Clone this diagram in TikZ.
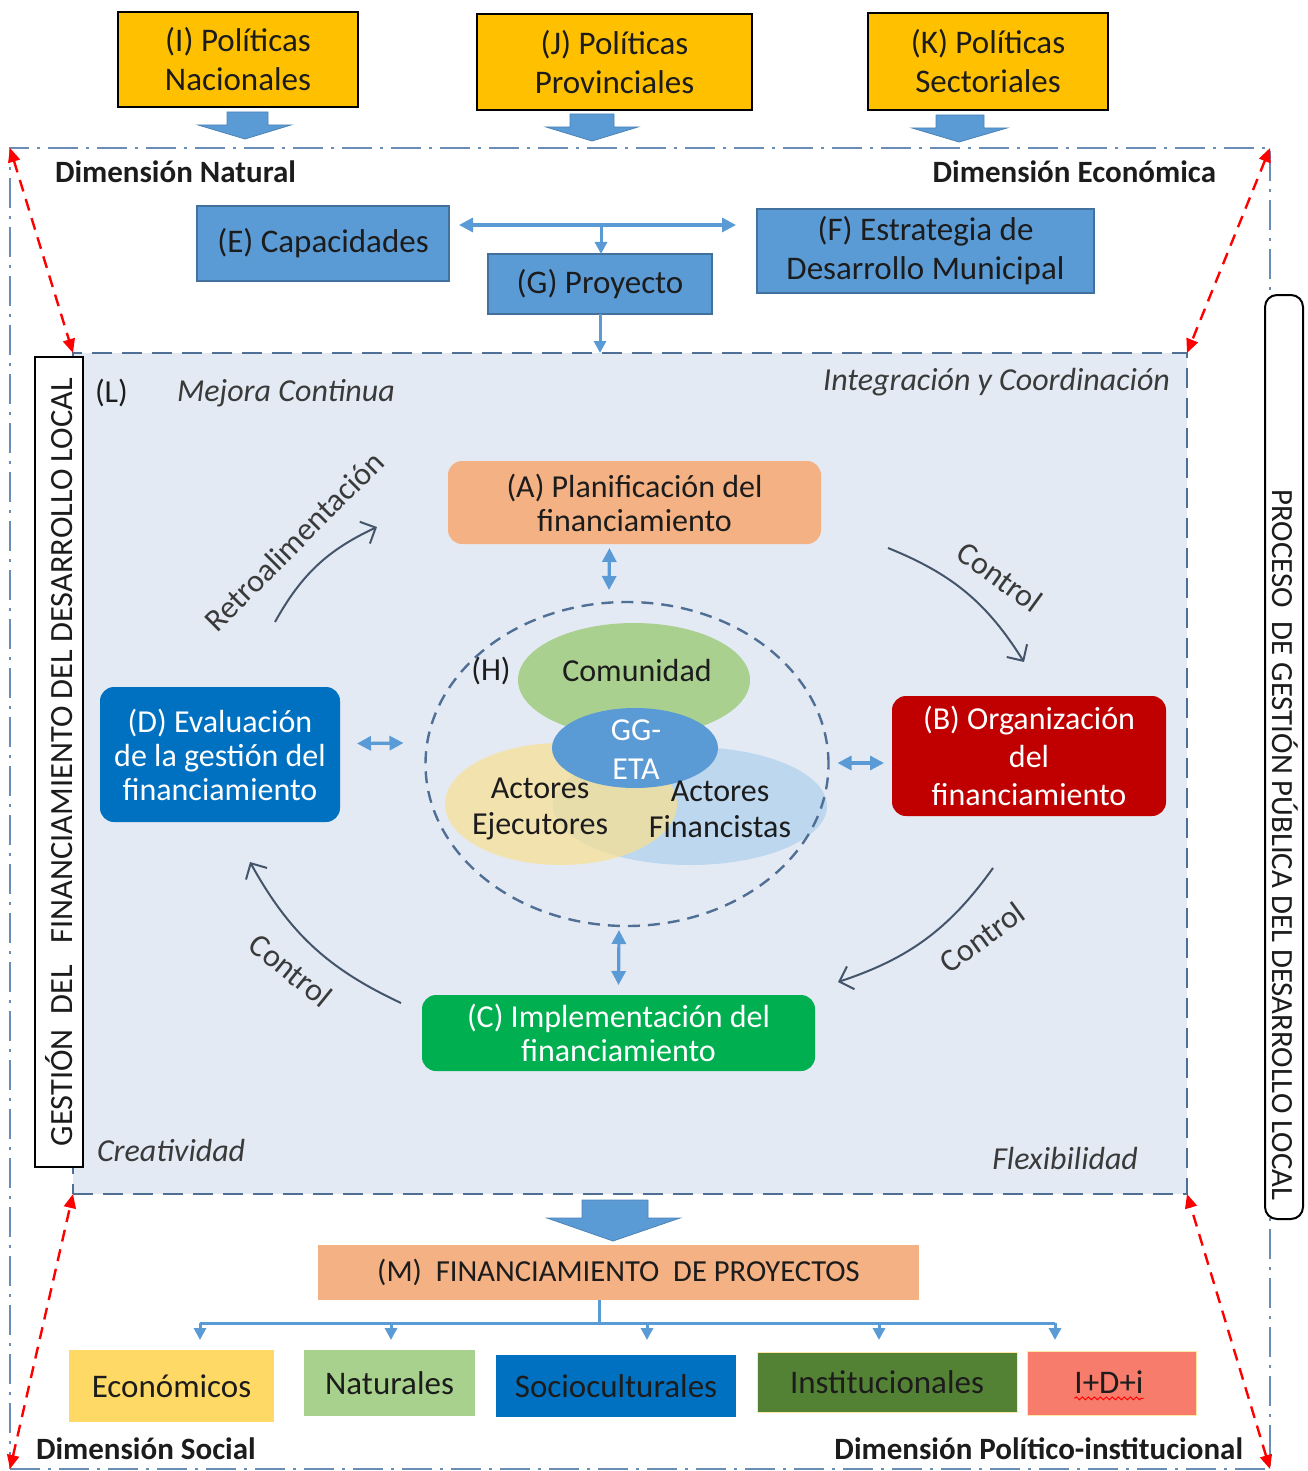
\documentclass[tikz,border=0pt]{standalone}
\usepackage{fontspec}
\setmainfont{Carlito}
\usetikzlibrary{arrows.meta,calc,shapes.geometric,decorations.pathmorphing}
\definecolor{polY}{HTML}{FFC000}
\definecolor{boxB}{HTML}{5B9BD5}
\definecolor{boxBd}{HTML}{41719C}
\definecolor{frameC}{HTML}{6A8DB6}
\definecolor{innerF}{HTML}{E4EAF4}
\definecolor{innerD}{HTML}{4F6F95}
\definecolor{aCol}{HTML}{F4B183}
\definecolor{bCol}{HTML}{C00000}
\definecolor{cCol}{HTML}{00B050}
\definecolor{dCol}{HTML}{0070C0}
\definecolor{cycC}{HTML}{44546A}
\definecolor{comC}{HTML}{A9D08E}
\definecolor{ejeC}{HTML}{F9E08F}
\definecolor{finC}{HTML}{BDD7EE}
\definecolor{ecoC}{HTML}{FFD966}
\definecolor{natC}{HTML}{A9D18E}
\definecolor{socC}{HTML}{0070C0}
\definecolor{insC}{HTML}{548235}
\definecolor{idiC}{HTML}{F77C6C}
\definecolor{txtC}{HTML}{1C1C1C}
\definecolor{lblC}{HTML}{3A3A3A}
\begin{document}
\begin{tikzpicture}[x=0.5pt,y=-0.5pt,
  base/.style={inner sep=0pt, outer sep=0pt, align=center, text=txtC},
  polbox/.style={base, draw=black, line width=1.1pt, fill=polY, font=\fontsize{16.5}{19.5}\selectfont},
  bluebox/.style={base, draw=boxBd, line width=0.8pt, fill=boxB, font=\fontsize{16.5}{19.5}\selectfont},
  phase/.style={base, rounded corners=7pt, font=\fontsize{16}{17}\selectfont},
  leaf/.style={base, font=\fontsize{16.5}{19}\selectfont},
  dimlbl/.style={base, font=\bfseries\fontsize{15.5}{17}\selectfont},
  itlbl/.style={base, font=\itshape\fontsize{16}{17}\selectfont, text=lblC},
  cyclbl/.style={base, font=\fontsize{16}{17}\selectfont, text=lblC},
  venn/.style={ellipse, inner sep=0pt, outer sep=0pt, draw=none},
  venntxt/.style={base, font=\fontsize{16}{18}\selectfont},
  dbl/.style={draw=boxB, line width=1.6pt, <->, >={Triangle[length=7pt,width=7pt]}},
  treearr/.style={draw=boxB, line width=1.5pt, ->, >={Triangle[length=6pt,width=6pt]}},
  cyc/.style={draw=cycC, line width=1pt, ->, >={Straight Barb[length=6pt,width=12pt]}},
  redarr/.style={draw=red, line width=1.2pt, dash pattern=on 6pt off 4pt, <->, >={Triangle[length=7pt,width=6pt]}},
  blockarr/.style={fill=boxB, draw=boxB!85!black, line width=0.4pt}
]
\useasboundingbox (0,0) rectangle (1307,1471);

% outer frame and inner region
\node[base, draw=frameC, line width=1.2pt, dash pattern=on 15pt off 4pt on 1.5pt off 4pt,
      minimum width=630pt, minimum height=660.5pt] (frame) at (640,808.5) {};
\node[base, draw=innerD, fill=innerF, line width=1.2pt, dash pattern=on 10pt off 5pt,
      minimum width=557pt, minimum height=420.5pt] (L) at (630,773.5) {};

% red dashed corner arrows
\draw[redarr] (frame.north west) -- (L.north west);
\draw[redarr] (frame.north east) -- (L.north east);
\draw[redarr] (frame.south west) -- (L.south west);
\draw[redarr] (frame.south east) -- (L.south east);

% side labels
\node[base, rotate=90, draw=black, fill=white, line width=1pt, minimum width=405pt, minimum height=24pt,
      font=\fontsize{16.2}{16}\selectfont] (gbox) at (59,762)
      {GESTIÓN\ \ DEL\ \ \ FINANCIAMIENTO DEL DESARROLLO LOCAL};
\node[base, draw=black, fill=white, line width=1pt, rounded corners=6pt,
      minimum width=19pt, minimum height=462pt] (pbox) at (1284,757) {};
\node[base, rotate=-90, font=\fontsize{15.4}{15}\selectfont] (ptxt) at (1285,845)
      {PROCESO\ \ DE GESTIÓN PÚBLICA DEL DESARROLLO LOCAL};

% top policy boxes
\node[polbox, minimum width=120pt, minimum height=47.5pt] (I) at (238,59.5) {(I) Políticas\\Nacionales};
\node[polbox, minimum width=137.5pt, minimum height=48pt] (J) at (614.5,62) {(J) Políticas\\Provinciales};
\node[polbox, minimum width=120pt, minimum height=48.5pt] (K) at (988,61.5) {(K) Políticas\\Sectoriales};

% block arrows
\fill[blockarr] (227,112) -- (268,112) -- (268,125) -- (291,125) -- (245,139) -- (198,125) -- (227,125) -- cycle;
\fill[blockarr] (570,114) -- (614,114) -- (614,127) -- (638,127) -- (592,141) -- (546,127) -- (570,127) -- cycle;
\fill[blockarr] (936,115) -- (984,115) -- (984,128) -- (1007,128) -- (959,142) -- (912,128) -- (936,128) -- cycle;
\fill[blockarr] (582,1200) -- (648,1200) -- (648,1218) -- (680,1218) -- (613,1241) -- (547,1218) -- (582,1218) -- cycle;

% dimension labels
\node[dimlbl, anchor=west] (dnat) at (55,172) {Dimensión Natural};
\node[dimlbl, anchor=east] (deco) at (1216,172) {Dimensión Económica};
\node[dimlbl, anchor=west] (dsoc) at (36,1449) {Dimensión Social};
\node[dimlbl, anchor=east] (dpol) at (1243,1449) {Dimensión Político-institucional};

% E F G
\node[bluebox, minimum width=126pt, minimum height=37.5pt] (E) at (323,243.5) {(E) Capacidades};
\node[bluebox, minimum width=168.5pt, minimum height=42pt] (F) at (925.5,251) {(F) Estrategia de\\Desarrollo Municipal};
\node[bluebox, minimum width=112pt, minimum height=30pt] (G) at (600,284) {(G) Proyecto};
\draw[dbl] ($(E.east)+(10,-18.5)$) -- ($(F.west)+(-21,-26)$);
\coordinate (EFmid) at (601,225);
\draw[treearr] (EFmid) -- (G.north -| EFmid);
\draw[treearr] (G.south) -- (G.south |- L.north);

% inner labels
\node[base, anchor=west, font=\fontsize{16}{17}\selectfont] (Llbl) at (95,393) {(L)};
\node[itlbl, anchor=west] (mej) at (177,393) {Mejora Continua};
\node[itlbl, anchor=east] (integ) at (1170,382) {Integración y Coordinación};
\node[itlbl, anchor=west] (crea) at (97,1150) {Creatividad};
\node[itlbl, anchor=east] (flex) at (1138,1158) {Flexibilidad};

% phase boxes
\node[phase, fill=aCol, minimum width=186.5pt, minimum height=41.5pt] (A) at (634.5,502.5) {(A) Planificación del\\financiamiento};
\node[phase, fill=bCol, text=white, font=\fontsize{16}{19}\selectfont, minimum width=137pt, minimum height=60pt] (B) at (1029,756) {(B) Organización\\del\\financiamiento};
\node[phase, fill=cCol, text=white, minimum width=196.5pt, minimum height=38pt] (C) at (618.5,1033) {(C) Implementación del\\financiamiento};
\node[phase, fill=dCol, text=white, minimum width=120pt, minimum height=67.5pt] (D) at (220,754.5) {(D) Evaluación\\de la gestión del\\financiamiento};

% Venn (H)
\node[venn, fill=comC, minimum width=116pt, minimum height=57pt] (com) at (634,680) {};
\node[venn, fill=finC, minimum width=137pt, minimum height=59pt] (fin) at (690,806) {};
\node[venn, fill=ejeC, fill opacity=0.7, minimum width=116pt, minimum height=61pt] (eje) at (561,804) {};
\node[venn, fill=boxB, minimum width=83pt, minimum height=40pt] (gg) at (635,748) {};
\node[venn, draw=innerD, line width=1.2pt, dash pattern=on 6pt off 4pt, minimum width=201.5pt, minimum height=162pt] (H) at (627,764) {};
\node[venntxt] (Hlbl) at (491,671) {(H)};
\node[venntxt] (comt) at (637,671) {Comunidad};
\node[venntxt] (ejet) at (540,809) {Actores\\Ejecutores};
\node[venntxt] (fint) at (720,809) {Actores\\Financistas};
\node[venntxt, text=white, font=\fontsize{16}{19.5}\selectfont] (ggt) at (636,750) {GG-\\ETA};

% links with H
\draw[dbl] ($(A.south)+(-25,4)$) -- ($(H.north)+(-18,-12)$);
\draw[dbl] ($(D.east)+(17,-11)$) -- ($(H.west)+(-22,-21)$);
\draw[dbl] ($(H.east)+(9,-1)$) -- ($(B.west)+(-8,7)$);
\draw[dbl] ($(H.south)+(-8,4)$) -- ($(C.north)+(0,-10)$);

% cycle arrows
\coordinate (r1) at (275,622); \coordinate (r2) at (377,527);
\coordinate (k1) at (888,548); \coordinate (k2) at (1024,662);
\coordinate (m1) at (993,868); \coordinate (m2) at (838,982);
\coordinate (n1) at (401,1003); \coordinate (n2) at (250,862);
\draw[cyc] (r1) to[bend left=18] (r2);
\draw[cyc] (k1) to[bend left=18] (k2);
\draw[cyc] (m1) to[bend left=18] (m2);
\draw[cyc] (n1) to[bend left=18] (n2);
\node[cyclbl, rotate=45] (retro) at (294,541) {Retroalimentación};
\node[cyclbl, rotate=-36] (ctl1) at (1000,577) {Control};
\node[cyclbl, rotate=36] (ctl2) at (982,937) {Control};
\node[cyclbl, rotate=-39] (ctl3) at (291,970) {Control};

% M and results
\node[leaf, fill=aCol, font=\fontsize{15.3}{17}\selectfont, minimum width=300.5pt, minimum height=27.5pt] (M) at (618.5,1272.5) {(M)\ \ FINANCIAMIENTO\ \ DE PROYECTOS};
\node[leaf, fill=ecoC, minimum width=102.5pt, minimum height=36pt] (eco) at (171.5,1386) {Económicos};
\node[leaf, fill=natC, minimum width=85.5pt, minimum height=33pt] (nat) at (389.5,1383) {Naturales};
\node[leaf, fill=socC, minimum width=120pt, minimum height=31pt] (soc) at (616,1386) {Socioculturales};
\node[leaf, fill=insC, draw=ecoC!60, line width=0.5pt, minimum width=130pt, minimum height=30pt] (ins) at (887,1382) {Institucionales};
\node[leaf, fill=idiC, draw=ecoC!60, line width=0.5pt, minimum width=84.5pt, minimum height=32pt] (idi) at (1111.5,1383) {};
\node[leaf] (idit) at (1109,1382) {I+D+i};
\draw[red, line width=0.5pt, decorate, decoration={snake, amplitude=0.7pt, segment length=3pt}]
  ($(idit.base west)+(0,5)$) -- ($(idit.base east)+(0,5)$);

\coordinate (Mj) at (599,1323);
\coordinate (t1) at (200,1323);
\coordinate (t2) at (391,1323);
\coordinate (t3) at (647,1323);
\coordinate (t4) at (879,1323);
\coordinate (t5) at (1055,1323);
\draw[draw=boxB, line width=1.5pt] (M.south -| Mj) -- (Mj);
\draw[draw=boxB, line width=1.5pt] (t1) -- (t5);
\draw[treearr] (t1) -- ($(eco.north)+(28.5,-10)$);
\draw[treearr] (t2) -- ($(nat.north)+(1.5,-10)$);
\draw[treearr] (t3) -- ($(soc.north)+(31,-15)$);
\draw[treearr] (t4) -- ($(ins.north)+(-8,-12)$);
\draw[treearr] (t5) -- ($(idi.north)+(-56.5,-11)$);
\end{tikzpicture}
\end{document}
